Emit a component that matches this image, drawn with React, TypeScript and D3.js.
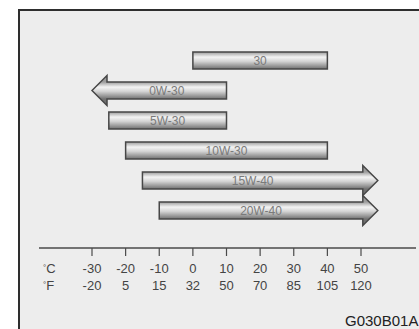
import React from "react";
import * as d3 from "d3";

const grades = ["30", "0W-30", "5W-30", "10W-30", "15W-40", "20W-40"];
const lowC = [0, -30, -25, -20, -15, -10];
const highC = [40, 10, 10, 40, 55, 55];
const arrowLeft = [false, true, false, false, false, false];
const arrowRight = [false, false, false, false, true, true];

const celsiusTicks = [-30, -20, -10, 0, 10, 20, 30, 40, 50];
const fahrenheitLabels = ["-20", "5", "15", "32", "50", "70", "85", "105", "120"];

const W = 419;
const H = 329;

export default function App() {
  const x = d3.scaleLinear().domain([-30, 50]).range([92, 361]);
  const y = d3.scalePoint<string>().domain(grades).range([60.5, 210.5]);
  const bodyH = 17;
  const headLen = 15;
  const headHalf = 15;
  const axisY = 248;
  const font = "Liberation Sans, Arial, sans-serif";

  const shapes = grades.map((g, i) => {
    const cy = y(g) as number;
    const top = cy - bodyH / 2;
    const bot = cy + bodyH / 2;
    const x0 = x(lowC[i]);
    const x1 = x(highC[i]);
    let path = "";
    let bx0 = x0;
    let bx1 = x1;
    if (arrowLeft[i]) {
      bx0 = x0 + headLen;
      path = `M${x0},${cy} L${bx0},${cy - headHalf} L${bx0},${top} L${x1},${top} L${x1},${bot} L${bx0},${bot} L${bx0},${cy + headHalf} Z`;
    } else if (arrowRight[i]) {
      bx1 = x1 - headLen;
      path = `M${x0},${top} L${bx1},${top} L${bx1},${cy - headHalf} L${x1},${cy} L${bx1},${cy + headHalf} L${bx1},${bot} L${x0},${bot} Z`;
    } else {
      path = `M${x0},${top} L${x1},${top} L${x1},${bot} L${x0},${bot} Z`;
    }
    return { g, i, cy, top, bot, path, labelX: (bx0 + bx1) / 2 };
  });

  return (
    <svg width={W} height={H} style={{ position: "absolute", left: 0, top: 0, display: "block" }}>
      <defs>
        {shapes.map((s) => (
          <linearGradient
            key={s.g}
            id={`grad${s.i}`}
            gradientUnits="userSpaceOnUse"
            x1={0}
            x2={0}
            y1={s.top}
            y2={s.bot}
          >
            <stop offset="0" stopColor="#9c9c9c" />
            <stop offset="0.3" stopColor="#f4f4f4" />
            <stop offset="0.55" stopColor="#d4d4d4" />
            <stop offset="1" stopColor="#707070" />
          </linearGradient>
        ))}
      </defs>
      <rect x={0} y={0} width={W} height={H} fill="#ffffff" />
      <rect x={19} y={10} width={W} height={H} fill="#ededed" stroke="#2e2e2e" strokeWidth={2} />

      {shapes.map((s) => (
        <g key={s.g}>
          <path d={s.path} fill={`url(#grad${s.i})`} stroke="#474747" strokeWidth={1.5} strokeLinejoin="miter" />
          <text
            x={s.labelX}
            y={s.cy + 4.5}
            textAnchor="middle"
            fontFamily={font}
            fontSize={12}
            fill="#7a7a7a"
          >
            {s.g}
          </text>
        </g>
      ))}

      <line x1={39} x2={416} y1={axisY} y2={axisY} stroke="#4a4a4a" strokeWidth={1.5} />
      {celsiusTicks.map((t, i) => (
        <g key={t}>
          <line x1={x(t)} x2={x(t)} y1={axisY} y2={axisY + 8} stroke="#4a4a4a" strokeWidth={1.2} />
          <text x={x(t)} y={273} textAnchor="middle" fontFamily={font} fontSize={13} fill="#444">
            {t}
          </text>
          <text x={x(t)} y={290} textAnchor="middle" fontFamily={font} fontSize={13} fill="#444">
            {fahrenheitLabels[i]}
          </text>
        </g>
      ))}
      <text x={43} y={273} fontFamily={font} fontSize={13} fill="#444">
        <tspan fontSize={8} dy={-3}>°</tspan>
        <tspan dy={3}>C</tspan>
      </text>
      <text x={43} y={290} fontFamily={font} fontSize={13} fill="#444">
        <tspan fontSize={8} dy={-3}>°</tspan>
        <tspan dy={3}>F</tspan>
      </text>
      <text x={345} y={326} fontFamily={font} fontSize={15} fill="#222">
        G030B01A
      </text>
    </svg>
  );
}
